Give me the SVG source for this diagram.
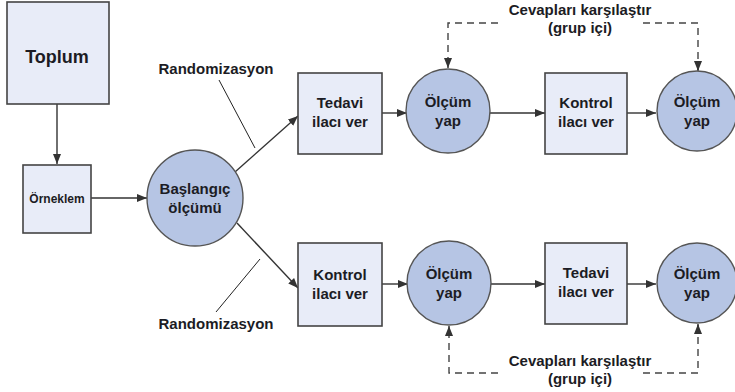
<svg xmlns="http://www.w3.org/2000/svg" width="735" height="392" viewBox="0 0 735 392">
<style>
.box{fill:#e8ecf8;stroke:#444;stroke-width:1.6}
.circ{fill:#b6c5e4;stroke:#555;stroke-width:1.4}
.t{font-family:"Liberation Sans",Arial,sans-serif;font-weight:bold;fill:#1c1c24;text-anchor:middle}
.n{font-size:15px}
.line{stroke:#333;stroke-width:1.4;fill:none}
.dash{stroke:#444;stroke-width:1.4;fill:none;stroke-dasharray:7,5}
.thin{stroke:#222;stroke-width:1;fill:none}
</style>
<defs>
<marker id="ah" viewBox="0 0 10 10" refX="10" refY="5" markerWidth="10" markerHeight="10" markerUnits="userSpaceOnUse" orient="auto">
<path d="M0,1 L10,5 L0,9 Z" fill="#333"/>
</marker>
</defs>
<rect width="735" height="392" fill="#ffffff"/>
<g id="connectors">
<line class="line" x1="57" y1="104" x2="57" y2="164" marker-end="url(#ah)"/>
<line class="line" x1="91" y1="198" x2="147" y2="198" marker-end="url(#ah)"/>
<line class="line" x1="235" y1="172" x2="298" y2="116" marker-end="url(#ah)"/>
<line class="line" x1="237" y1="223" x2="298" y2="288" marker-end="url(#ah)"/>
<line class="line" x1="382" y1="113" x2="407" y2="113" marker-end="url(#ah)"/>
<line class="line" x1="490" y1="113" x2="545" y2="113" marker-end="url(#ah)"/>
<line class="line" x1="627" y1="113" x2="656" y2="113" marker-end="url(#ah)"/>
<line class="line" x1="382" y1="284" x2="408" y2="284" marker-end="url(#ah)"/>
<line class="line" x1="491" y1="284" x2="545" y2="284" marker-end="url(#ah)"/>
<line class="line" x1="627" y1="284" x2="656" y2="284" marker-end="url(#ah)"/>
<path class="dash" d="M498,23 H448 V68"/>
<line class="line" x1="448" y1="58" x2="448" y2="68" marker-end="url(#ah)"/>
<path class="dash" d="M643,23 H698 V70"/>
<line class="line" x1="698" y1="61" x2="698" y2="71" marker-end="url(#ah)"/>
<path class="dash" d="M498,373 H449 V326"/>
<line class="line" x1="449" y1="336" x2="449" y2="326" marker-end="url(#ah)"/>
<path class="dash" d="M643,373 H698 V324"/>
<line class="line" x1="698" y1="334" x2="698" y2="324" marker-end="url(#ah)"/>
<line class="thin" x1="219" y1="80" x2="255" y2="148"/>
<line class="thin" x1="216" y1="312" x2="260" y2="259"/>
</g>
<g id="toplum"><rect class="box" x="7" y="2" width="102" height="102"/><text class="t" x="57" y="63" font-size="18">Toplum</text></g>
<g id="orneklem"><rect class="box" x="23" y="165" width="68" height="68"/><text class="t" x="57" y="203" font-size="12">Örneklem</text></g>
<g id="baslangic"><circle class="circ" cx="195" cy="198" r="48"/><text class="t n" x="195" y="194">Başlangıç</text><text class="t n" x="195" y="213">ölçümü</text></g>
<g id="tedavi1"><rect class="box" x="298" y="73" width="84" height="81"/><text class="t n" x="340" y="108">Tedavi</text><text class="t n" x="340" y="127">ilacı ver</text></g>
<g id="olcum1"><circle class="circ" cx="448" cy="111" r="42"/><text class="t n" x="448" y="107">Ölçüm</text><text class="t n" x="448" y="126">yap</text></g>
<g id="kontrol1"><rect class="box" x="545" y="73" width="82" height="81"/><text class="t n" x="586" y="108">Kontrol</text><text class="t n" x="586" y="127">ilacı ver</text></g>
<g id="olcum2"><circle class="circ" cx="697" cy="111" r="40"/><text class="t n" x="697" y="107">Ölçüm</text><text class="t n" x="697" y="126">yap</text></g>
<g id="kontrol2"><rect class="box" x="298" y="243" width="84" height="83"/><text class="t n" x="340" y="280">Kontrol</text><text class="t n" x="340" y="299">ilacı ver</text></g>
<g id="olcum3"><circle class="circ" cx="449" cy="283" r="42"/><text class="t n" x="449" y="279">Ölçüm</text><text class="t n" x="449" y="298">yap</text></g>
<g id="tedavi2"><rect class="box" x="545" y="243" width="82" height="81"/><text class="t n" x="586" y="278">Tedavi</text><text class="t n" x="586" y="297">ilacı ver</text></g>
<g id="olcum4"><circle class="circ" cx="697" cy="283" r="40"/><text class="t n" x="697" y="279">Ölçüm</text><text class="t n" x="697" y="298">yap</text></g>
<g id="labels">
<text class="t n" x="216" y="74">Randomizasyon</text>
<text class="t n" x="216" y="329">Randomizasyon</text>
<text class="t n" x="580" y="15">Cevapları karşılaştır</text>
<text class="t n" x="580" y="33">(grup içi)</text>
<text class="t n" x="580" y="366">Cevapları karşılaştır</text>
<text class="t n" x="580" y="384">(grup içi)</text>
</g>
</svg>
